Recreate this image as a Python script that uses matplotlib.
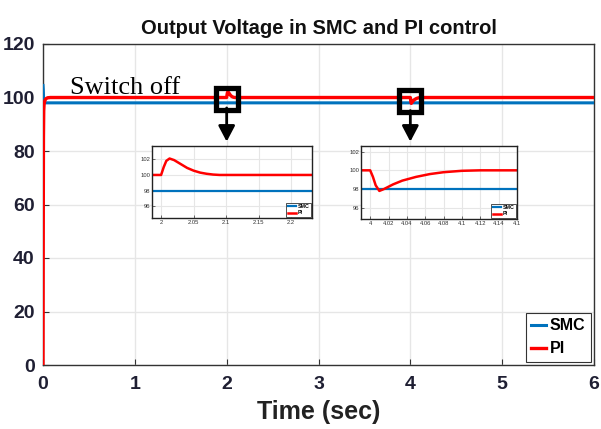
import matplotlib
matplotlib.use("Agg")
import matplotlib.pyplot as plt

# ---- data ----
t_pi = [0.0, 0.002, 0.005, 0.008, 0.012, 0.02, 0.03, 0.05, 0.08,
        2.0, 2.004, 2.008, 2.013, 2.02, 2.03, 2.04, 2.05, 2.06, 2.07, 2.08, 2.09,
        4.0, 4.003, 4.006, 4.01, 4.015, 4.025, 4.035, 4.05, 4.065, 4.08, 4.1, 4.12, 6.0]
v_pi = [0.0, 40.0, 85.0, 95.0, 97.5, 98.8, 99.5, 99.9, 100.0,
        100.0, 101.0, 101.8, 102.1, 101.9, 101.4, 100.9, 100.55, 100.3, 100.15, 100.05, 100.0,
        100.0, 99.3, 98.4, 97.8, 98.0, 98.5, 98.9, 99.3, 99.6, 99.8, 99.95, 100.0, 100.0]
t_smc = [0.0, 0.003, 0.008, 0.015, 6.0]
v_smc = [104.5, 103.0, 98.5, 98.0, 98.0]

main_xticks = [0, 1, 2, 3, 4, 5, 6]
main_yticks = [0, 20, 40, 60, 80, 100, 120]
in1_xticks = [2, 2.05, 2.1, 2.15, 2.2]
in1_xlabels = ["2", "2.05", "2.1", "2.15", "2.2"]
in2_xticks = [4, 4.02, 4.04, 4.06, 4.08, 4.1, 4.12, 4.14, 4.16]
in2_xlabels = ["4", "4.02", "4.04", "4.06", "4.08", "4.1", "4.12", "4.14", "4.1"]
in_yticks = [96, 98, 100, 102]
marks_t = [2.0, 4.0]
marks_v = [99.6, 98.6]

BLUE = "#0072BD"
RED = "#FF0000"
TXT = "#1f1f33"

W, H = 601, 429
fig = plt.figure(figsize=(W / 100, H / 100), dpi=100)
plt.rcParams['font.family'] = ['Liberation Sans', 'DejaVu Sans']

def rect(x0, y0, x1, y1):
    return [x0 / W, 1 - y1 / H, (x1 - x0) / W, (y1 - y0) / H]

ax = fig.add_axes(rect(43, 44, 594, 365))
ax.plot(t_smc, v_smc, color=BLUE, lw=2.2, label="SMC", zorder=3)
ax.plot(t_pi, v_pi, color=RED, lw=2.4, label="PI", zorder=4)
ax.set_xlim(0, 6)
ax.set_ylim(0, 120)
ax.set_xticks(main_xticks)
ax.set_yticks(main_yticks)
ax.tick_params(labelsize=14, colors="#333333", labelcolor=TXT, length=4,
               direction='in', width=0.8)
ax.tick_params(axis='x', pad=8)
ax.tick_params(axis='y', pad=6)
for lab in ax.get_xticklabels() + ax.get_yticklabels():
    lab.set_fontweight('bold')
ax.grid(True, color="#e6e6e6", lw=1)
for s in ax.spines.values():
    s.set_color("#333333")
    s.set_linewidth(1.0)
ax.set_title("Output Voltage in SMC and PI control", fontsize=14.5, fontweight='bold',
             color="#111111", pad=7)
ax.set_xlabel("Time (sec)", fontsize=18, fontweight='bold', color="#222222", labelpad=5)
leg = ax.legend(loc='lower right', prop={'weight': 'bold', 'size': 11.5},
                handlelength=0.9, handletextpad=0.25, borderpad=0.35, labelspacing=0.5,
                fancybox=False, edgecolor="#333333", framealpha=1,
                borderaxespad=0.2)
leg.get_frame().set_linewidth(0.8)

ax.text(0.29, 101.3, "Switch off", family=['Liberation Serif', 'DejaVu Serif'],
        fontsize=19, color="black", zorder=6)

ax.plot(marks_t, marks_v, linestyle='none', marker='s', markersize=16,
        markerfacecolor='none', markeredgecolor='black', markeredgewidth=3.8, zorder=7)
for tm, vm in zip(marks_t, marks_v):
    ax.annotate("", xy=(tm, 83.5), xytext=(tm, vm - 3.5),
                arrowprops=dict(arrowstyle='-|>,head_width=0.5,head_length=0.95',
                                color='black', lw=2.0, shrinkA=0, shrinkB=0), zorder=7)

def inset(box, xl, yl, xt, xlabs):
    a = fig.add_axes(rect(*box))
    a.plot(t_smc, v_smc, color=BLUE, lw=1.6, label="SMC")
    a.plot(t_pi, v_pi, color=RED, lw=1.8, label="PI")
    a.set_xlim(*xl)
    a.set_ylim(*yl)
    a.set_xticks(xt)
    a.set_xticklabels(xlabs)
    a.set_yticks(in_yticks)
    a.tick_params(labelsize=4.2, length=2, direction='in', width=0.5, pad=1.5, colors="#333333")
    a.grid(True, color="#e6e6e6", lw=0.8)
    for s in a.spines.values():
        s.set_color("#222222")
        s.set_linewidth(1.0)
    lg = a.legend(loc='lower right', prop={'size': 3.8, 'weight': 'bold'}, handlelength=1.5,
                  handletextpad=0.3, borderpad=0.3, labelspacing=0.2, fancybox=False,
                  edgecolor="#333333", framealpha=1, borderaxespad=0.2)
    lg.get_frame().set_linewidth(0.6)
    return a

inset((152, 146, 312, 218), (1.986, 2.232), (94.5, 103.7), in1_xticks, in1_xlabels)
inset((361, 146, 517, 219), (3.99, 4.16), (94.8, 102.6), in2_xticks, in2_xlabels)

fig.savefig("out.png", dpi=100)
